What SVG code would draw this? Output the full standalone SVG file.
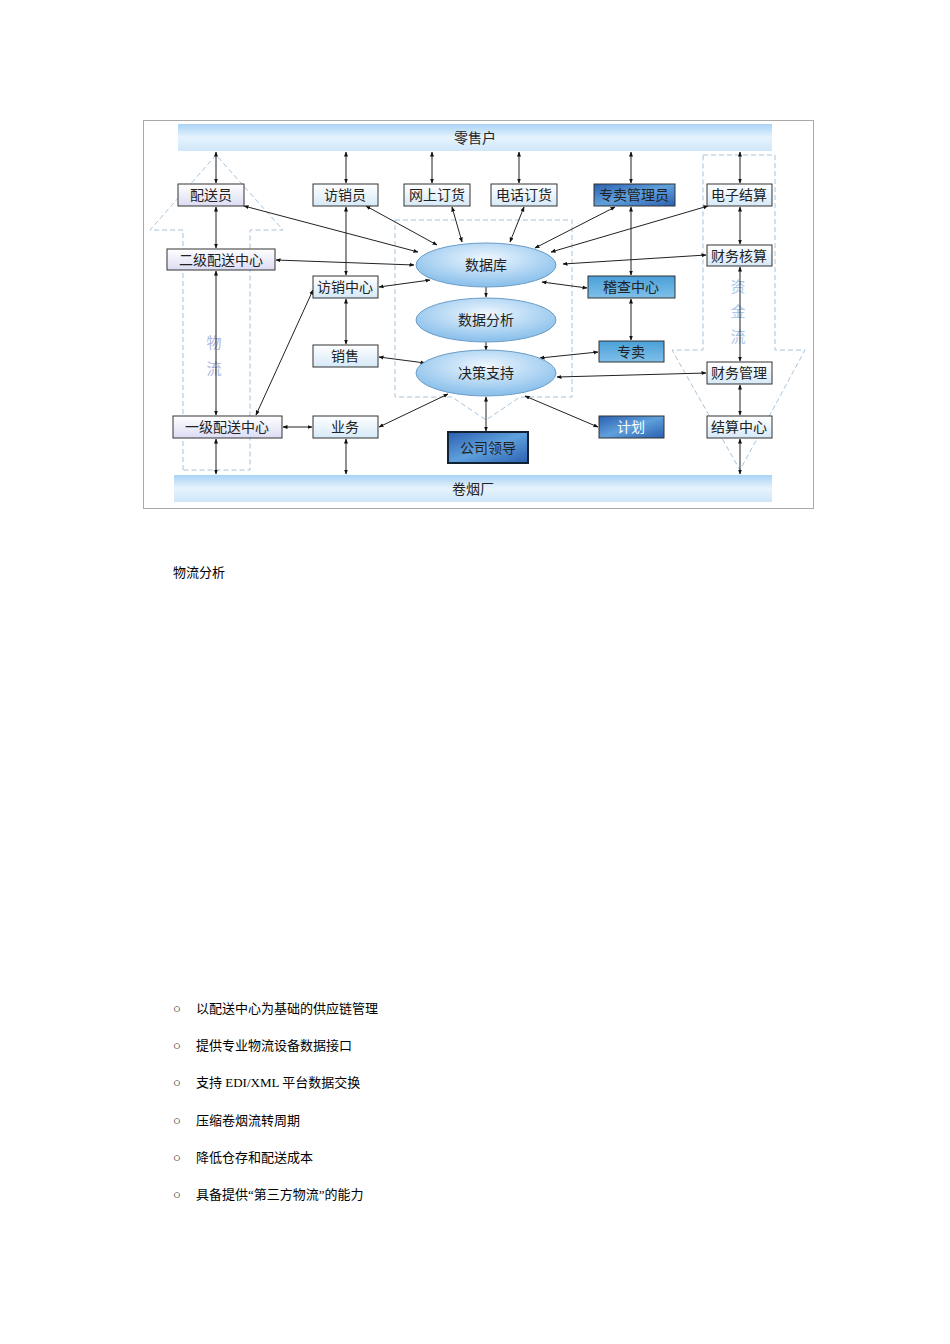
<svg xmlns="http://www.w3.org/2000/svg" width="950" height="1344" viewBox="0 0 950 1344">
<defs>
<linearGradient id="bar" x1="0" y1="0" x2="0" y2="1"><stop offset="0" stop-color="#a9d3f5"/><stop offset="0.5" stop-color="#e6f3fd"/><stop offset="1" stop-color="#cfe6f8"/></linearGradient>
<linearGradient id="lb" x1="0" y1="0" x2="0" y2="1"><stop offset="0" stop-color="#ffffff"/><stop offset="1" stop-color="#d6e9f8"/></linearGradient>
<linearGradient id="lv" x1="0" y1="0" x2="0" y2="1"><stop offset="0" stop-color="#ffffff"/><stop offset="1" stop-color="#dcdcf4"/></linearGradient>
<linearGradient id="db" x1="0" y1="0" x2="1" y2="1"><stop offset="0" stop-color="#2a5fb0"/><stop offset="0.5" stop-color="#5fa0dc"/><stop offset="1" stop-color="#2a5fb0"/></linearGradient>
<linearGradient id="mb" x1="0" y1="0" x2="0" y2="1"><stop offset="0" stop-color="#4aa0d8"/><stop offset="1" stop-color="#7fc0ea"/></linearGradient>
<radialGradient id="el" cx="0.5" cy="0.35" r="0.6"><stop offset="0" stop-color="#eef7ff"/><stop offset="1" stop-color="#8ec2ec"/></radialGradient>
<marker id="a" viewBox="0 0 10 10" refX="9" refY="5" markerWidth="5" markerHeight="5" orient="auto-start-reverse"><path d="M0,1 L10,5 L0,9 z" fill="#111"/></marker>
</defs>
<style>
text{font-family:"Liberation Sans","Noto Sans CJK SC",sans-serif;font-size:14px;fill:#222;text-anchor:middle;dominant-baseline:central}
.b{stroke:#333;stroke-width:1}
.w{fill:#fff}
.c line{stroke:#222;stroke-width:1;marker-start:url(#a);marker-end:url(#a)}
.d{fill:none;stroke:#a8c4dc;stroke-width:1;stroke-dasharray:5,3}
.p{font-family:"Liberation Serif","Noto Sans CJK SC",serif;font-size:13px;text-anchor:start;fill:#000}
</style>
<rect x="143.5" y="120.5" width="670" height="388" fill="#fff" stroke="#aaa"/>
<g id="bg">
<path class="d" d="M183,470 L183,230 L150,230 L216,155 L283,230 L250,230 L250,470 Z"/>
<path class="d" d="M703,155 L775,155 L775,350 L805,350 L740,470 L672,350 L703,350 Z"/>
<path class="d" d="M395,220 L572,220 L572,397 L520,397 L486,420 L452,397 L395,397 Z"/>
<text x="214" y="342" style="fill:#b0b8e0;font-size:15px">物</text>
<text x="214" y="368" style="fill:#b0b8e0;font-size:15px">流</text>
<text x="738" y="286" style="fill:#a8c8e8;font-size:15px">资</text>
<text x="738" y="311" style="fill:#a8c8e8;font-size:15px">金</text>
<text x="738" y="336" style="fill:#a8c8e8;font-size:15px">流</text>
</g>
<g id="top"><rect x="178" y="124" width="594" height="27" fill="url(#bar)"/><text x="475" y="138">零售户</text></g>
<g id="bottom"><rect x="174" y="475" width="598" height="27" fill="url(#bar)"/><text x="473" y="489">卷烟厂</text></g>
<g class="c">
<line x1="216" y1="152" x2="216" y2="183"/>
<line x1="216" y1="207" x2="216" y2="248"/>
<line x1="216" y1="271" x2="216" y2="415"/>
<line x1="216" y1="439" x2="216" y2="474"/>
<line x1="346" y1="152" x2="346" y2="183"/>
<line x1="346" y1="207" x2="346" y2="275"/>
<line x1="346" y1="299" x2="346" y2="344"/>
<line x1="346" y1="439" x2="346" y2="474"/>
<line x1="432" y1="152" x2="432" y2="183"/>
<line x1="519" y1="152" x2="519" y2="183"/>
<line x1="631" y1="152" x2="631" y2="183"/>
<line x1="631" y1="207" x2="631" y2="275"/>
<line x1="631" y1="299" x2="631" y2="340"/>
<line x1="740" y1="152" x2="740" y2="183"/>
<line x1="740" y1="207" x2="740" y2="244"/>
<line x1="740" y1="267" x2="740" y2="361"/>
<line x1="740" y1="385" x2="740" y2="415"/>
<line x1="740" y1="439" x2="740" y2="474"/>
<line x1="486" y1="397" x2="486" y2="431"/>
<line x1="244" y1="206" x2="418" y2="252"/>
<line x1="276" y1="260" x2="414" y2="265"/>
<line x1="366" y1="206" x2="437" y2="245"/>
<line x1="452" y1="207" x2="462" y2="242"/>
<line x1="524" y1="207" x2="510" y2="242"/>
<line x1="615" y1="207" x2="535" y2="248"/>
<line x1="708" y1="206" x2="551" y2="252"/>
<line x1="706" y1="255" x2="563" y2="264"/>
<line x1="587" y1="288" x2="542" y2="282"/>
<line x1="379" y1="287" x2="430" y2="280"/>
<line x1="313" y1="290" x2="256" y2="415"/>
<line x1="379" y1="357" x2="425" y2="363"/>
<line x1="598" y1="352" x2="540" y2="358"/>
<line x1="706" y1="373" x2="557" y2="377"/>
<line x1="283" y1="427" x2="312" y2="427"/>
<line x1="379" y1="427" x2="448" y2="394"/>
<line x1="598" y1="427" x2="525" y2="396"/>
</g>
<g style="stroke:#222;stroke-width:1;fill:none">
<line x1="486" y1="287" x2="486" y2="297" marker-end="url(#a)"/>
<line x1="486" y1="342" x2="486" y2="350" marker-end="url(#a)"/>
</g>
<g id="n1"><rect class="b" x="178" y="184" width="66" height="22" fill="url(#lv)"/><text x="211" y="195">配送员</text></g>
<g id="n2"><rect class="b" x="313" y="184" width="65" height="22" fill="url(#lb)"/><text x="345" y="195">访销员</text></g>
<g id="n3"><rect class="b" x="404" y="184" width="66" height="22" fill="url(#lb)"/><text x="437" y="195">网上订货</text></g>
<g id="n4"><rect class="b" x="491" y="184" width="66" height="22" fill="url(#lb)"/><text x="524" y="195">电话订货</text></g>
<g id="n5"><rect class="b" x="594" y="184" width="81" height="22" fill="url(#db)"/><text x="634" y="195">专卖管理员</text></g>
<g id="n6"><rect class="b" x="707" y="184" width="65" height="22" fill="url(#lb)"/><text x="739" y="195">电子结算</text></g>
<g id="n7"><rect class="b" x="167" y="249" width="108" height="21" fill="url(#lv)"/><text x="221" y="260">二级配送中心</text></g>
<g id="n8"><rect class="b" x="313" y="276" width="65" height="22" fill="url(#lb)"/><text x="345" y="287">访销中心</text></g>
<g id="n9"><rect class="b" x="313" y="345" width="65" height="22" fill="url(#lb)"/><text x="345" y="356">销售</text></g>
<g id="n10"><rect class="b" x="173" y="416" width="109" height="22" fill="url(#lv)"/><text x="227" y="427">一级配送中心</text></g>
<g id="n11"><rect class="b" x="313" y="416" width="65" height="22" fill="url(#lb)"/><text x="345" y="427">业务</text></g>
<g id="n12"><rect class="b" x="707" y="245" width="65" height="21" fill="url(#lb)"/><text x="739" y="256">财务核算</text></g>
<g id="n13"><rect class="b" x="588" y="276" width="87" height="22" fill="url(#mb)"/><text x="631" y="287">稽查中心</text></g>
<g id="n14"><rect class="b" x="599" y="341" width="65" height="21" fill="url(#mb)"/><text x="631" y="352">专卖</text></g>
<g id="n15"><rect class="b" x="707" y="362" width="65" height="22" fill="url(#lb)"/><text x="739" y="373">财务管理</text></g>
<g id="n16"><rect class="b" x="707" y="416" width="65" height="22" fill="url(#lb)"/><text x="739" y="427">结算中心</text></g>
<g id="n17"><rect class="b" x="599" y="416" width="65" height="22" fill="url(#db)"/><text x="631" y="427" style="fill:#fff">计划</text></g>
<g id="n18"><rect x="448" y="432" width="80" height="31" fill="url(#db)" stroke="#123" stroke-width="2"/><text x="488" y="448">公司领导</text></g>
<g id="e1"><ellipse cx="486" cy="265" rx="70" ry="22" fill="url(#el)" stroke="#6a9cc8"/><text x="486" y="265">数据库</text></g>
<g id="e2"><ellipse cx="486" cy="320" rx="70" ry="22" fill="url(#el)" stroke="#6a9cc8"/><text x="486" y="320">数据分析</text></g>
<g id="e3"><ellipse cx="486" cy="373" rx="70" ry="23" fill="url(#el)" stroke="#6a9cc8"/><text x="486" y="373">决策支持</text></g>
<text class="p" x="173" y="572">物流分析</text>
<g class="p">
<text class="p" x="173" y="1008">○</text><text class="p" x="196" y="1008">以配送中心为基础的供应链管理</text>
<text class="p" x="173" y="1045">○</text><text class="p" x="196" y="1045">提供专业物流设备数据接口</text>
<text class="p" x="173" y="1082">○</text><text class="p" x="196" y="1082">支持 EDI/XML 平台数据交换</text>
<text class="p" x="173" y="1120">○</text><text class="p" x="196" y="1120">压缩卷烟流转周期</text>
<text class="p" x="173" y="1157">○</text><text class="p" x="196" y="1157">降低仓存和配送成本</text>
<text class="p" x="173" y="1194">○</text><text class="p" x="196" y="1194">具备提供“第三方物流”的能力</text>
</g>
</svg>
